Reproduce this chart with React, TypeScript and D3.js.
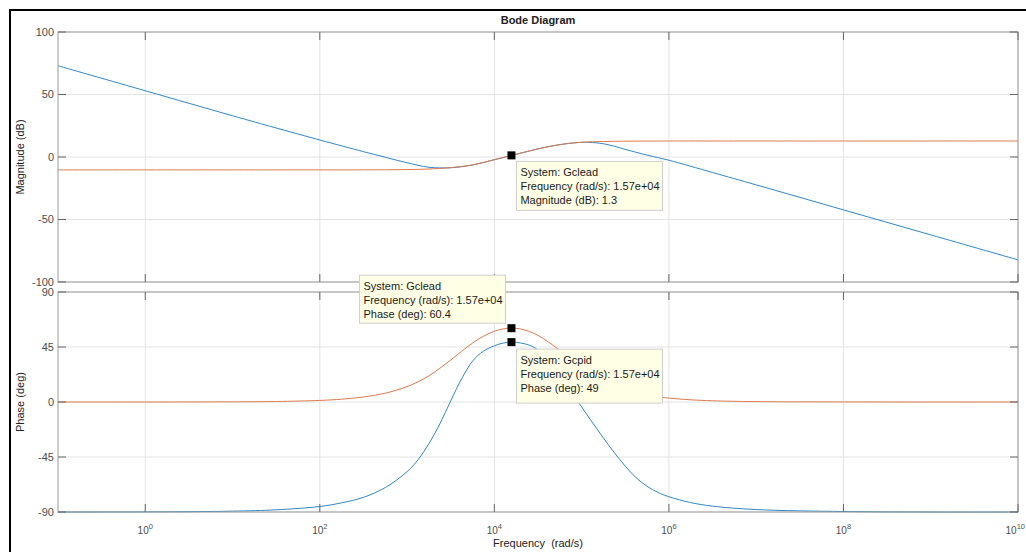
import React from "react";
import * as d3 from "d3";

// ---------- data ----------
// magnitude samples: frequency exponent (10^e rad/s) and dB values
const magFreqExp = [-1, 0, 1, 1.5, 2, 2.5, 2.75, 3, 3.25, 3.5, 3.75, 4, 4.2, 4.4, 4.6, 4.8, 5, 5.125, 5.25, 5.375, 5.5, 5.75, 6, 6.5, 7, 8, 9, 10];
const gcpidMag = [73, 53, 33, 23.2, 13.6, 4.3, -0.2, -4.6, -8.2, -8.6, -6.4, -2.2, 1.3, 4.8, 8.0, 10.4, 11.7, 11.6, 10.6, 8.6, 6.1, 1.5, -2.6, -12.4, -22.3, -42.3, -62.3, -82.3];
const gcleadMag = [-10.3, -10.3, -10.3, -10.3, -10.3, -10.27, -10.2, -10.05, -9.6, -8.5, -6.3, -2.1, 1.3, 4.8, 8.0, 10.4, 11.8, 12.2, 12.4, 12.55, 12.65, 12.75, 12.8, 12.8, 12.8, 12.8, 12.8, 12.8];

// phase samples: frequency exponent and degrees
const phFreqExp = [-1, 0, 1, 1.5, 2, 2.25, 2.5, 2.75, 3, 3.125, 3.25, 3.375, 3.5, 3.625, 3.75, 3.875, 4, 4.1, 4.2, 4.3, 4.4, 4.5, 4.625, 4.75, 4.875, 5, 5.125, 5.25, 5.375, 5.5, 5.625, 5.75, 5.875, 6, 6.25, 6.5, 7, 8, 9, 10];
const gcpidPhase = [-90, -89.9, -89.3, -88.2, -85.5, -82.5, -78, -70, -57, -47.3, -34.1, -17.9, 0.9, 19, 33.4, 41.6, 46, 48.2, 49, 48.3, 46.5, 42.5, 34, 23, 9, -4, -17, -29.5, -41.5, -52.5, -62, -69, -74, -77.5, -82.3, -85.2, -88, -89.6, -90, -90];
const gcleadPhase = [0, 0, 0.13, 0.41, 1.3, 2.3, 4.1, 7.2, 12.6, 16.5, 21.5, 27.6, 34.3, 41.5, 48.2, 53.8, 57.9, 59.8, 60.4, 59.8, 57.7, 54.5, 48.8, 42.4, 35.3, 28.3, 22.3, 17.2, 13.1, 9.8, 7.4, 5.6, 4.2, 3.2, 1.8, 1.0, 0.3, 0.05, 0, 0];

const xTickExp = [0, 2, 4, 6, 8, 10];
const magTicks = [100, 50, 0, -50, -100];
const phaseTicks = [90, 45, 0, -45, -90];

const tipFreqText = "1.57e+04";
const tipFreq = 1.57e4;
const tipMagLead = 1.3;
const tipPhaseLead = 60.4;
const tipPhasePid = 49;

const title = "Bode Diagram";
const xLabel = "Frequency  (rad/s)";
const magLabel = "Magnitude (dB)";
const phaseLabel = "Phase (deg)";

const BLUE = "#2f88c8";
const ORANGE = "#df7a4e";

export default function App() {
  const L = 58, R = 1018;
  const magTop = 32, magBot = 282;
  const phTop = 292, phBot = 512;

  const x = d3.scaleLog().domain([1e-1, 1e10]).range([L, R]);
  const yMag = d3.scaleLinear().domain([-100, 100]).range([magBot, magTop]);
  const yPh = d3.scaleLinear().domain([-90, 90]).range([phBot, phTop]);

  const mk = (fe: number[], vals: number[], y: any) =>
    d3
      .line<number>()
      .x((_, i) => x(Math.pow(10, fe[i])))
      .y((v) => y(v))
      .curve(d3.curveCatmullRom.alpha(0.5))(vals) as string;

  const font = "'Liberation Sans', Arial, Helvetica, sans-serif";
  const tickColor = "#4d4d4d";
  const gridColor = "#e3e3e3";
  const axisColor = "#9a9a9a";
  const tickLen = 8;

  const grid = (top: number, bot: number, y: any, ticks: number[]) => (
    <g>
      {xTickExp.map((e) => (
        <line key={"gx" + e} x1={x(Math.pow(10, e))} x2={x(Math.pow(10, e))} y1={top} y2={bot} stroke={gridColor} strokeWidth={1} />
      ))}
      {ticks.map((t) => (
        <line key={"gy" + t} x1={L} x2={R} y1={y(t)} y2={y(t)} stroke={gridColor} strokeWidth={1} />
      ))}
    </g>
  );

  const axesFrame = (top: number, bot: number, y: any, ticks: number[]) => (
    <g>
      <rect x={L} y={top} width={R - L} height={bot - top} fill="none" stroke={axisColor} strokeWidth={1} />
      {xTickExp.map((e) => {
        const xx = x(Math.pow(10, e));
        return (
          <g key={"tx" + e}>
            <line x1={xx} x2={xx} y1={top} y2={top + tickLen} stroke="#666" />
            <line x1={xx} x2={xx} y1={bot} y2={bot - tickLen} stroke="#666" />
          </g>
        );
      })}
      {ticks.map((t) => (
        <g key={"ty" + t}>
          <line x1={L} x2={L + tickLen} y1={y(t)} y2={y(t)} stroke="#666" />
          <line x1={R} x2={R - tickLen} y1={y(t)} y2={y(t)} stroke="#666" />
          <text x={L - 4} y={y(t)} dy="0.35em" textAnchor="end" fontSize={11} fill={tickColor} fontFamily={font}>
            {t}
          </text>
        </g>
      ))}
    </g>
  );

  const dataTip = (bx: number, by: number, w: number, h: number, lines: string[]) => (
    <g>
      <rect x={bx} y={by} width={w} height={h} fill="#ffffe6" stroke="#cfcfcf" strokeWidth={1} />
      {lines.map((s, i) => (
        <text key={i} x={bx + 4} y={by + 15 + i * 14} fontSize={11} fill="#1a1a1a" fontFamily={font}>
          {s}
        </text>
      ))}
    </g>
  );

  const marker = (cx: number, cy: number) => <rect x={cx - 4} y={cy - 4} width={8} height={8} fill="#000" />;

  const tx = x(tipFreq);

  return (
    <svg width={1026} height={552} style={{ position: "absolute", left: 0, top: 0, background: "#fff" }}>
      <rect x={0} y={0} width={1026} height={552} fill="#fff" />
      <defs>
        <clipPath id="clipMag">
          <rect x={L} y={magTop - 1} width={R - L} height={magBot - magTop + 2} />
        </clipPath>
        <clipPath id="clipPh">
          <rect x={L} y={phTop - 1} width={R - L} height={phBot - phTop + 2} />
        </clipPath>
      </defs>

      {/* outer frame (left & top) */}
      <line x1={10} x2={10} y1={9} y2={552} stroke="#000" strokeWidth={2} />
      <line x1={9} x2={1026} y1={10} y2={10} stroke="#000" strokeWidth={2} />

      <text x={(L + R) / 2} y={24} textAnchor="middle" fontSize={11} fontWeight="bold" fill="#222" fontFamily={font}>
        {title}
      </text>

      {grid(magTop, magBot, yMag, magTicks)}
      {grid(phTop, phBot, yPh, phaseTicks)}

      <g clipPath="url(#clipMag)" fill="none" strokeWidth={1}>
        <path d={mk(magFreqExp, gcpidMag, yMag)} stroke={BLUE} />
        <path d={mk(magFreqExp, gcleadMag, yMag)} stroke={ORANGE} />
      </g>
      <g clipPath="url(#clipPh)" fill="none" strokeWidth={1}>
        <path d={mk(phFreqExp, gcpidPhase, yPh)} stroke={BLUE} />
        <path d={mk(phFreqExp, gcleadPhase, yPh)} stroke={ORANGE} />
      </g>

      {axesFrame(magTop, magBot, yMag, magTicks)}
      {axesFrame(phTop, phBot, yPh, phaseTicks)}

      {xTickExp.map((e, i) => {
        const last = i === xTickExp.length - 1;
        return (
          <text
            key={"xl" + e}
            x={last ? 1025 : x(Math.pow(10, e))}
            y={534}
            textAnchor={last ? "end" : "middle"}
            fontSize={10}
            fill={tickColor}
            fontFamily={font}
          >
            10
            <tspan dy={-5} fontSize={7.5}>
              {e}
            </tspan>
          </text>
        );
      })}

      <text x={(L + R) / 2} y={547} textAnchor="middle" fontSize={11} fill="#222" fontFamily={font} style={{ whiteSpace: "pre" }}>
        {xLabel}
      </text>
      <text transform={`translate(24,${(magTop + magBot) / 2}) rotate(-90)`} textAnchor="middle" fontSize={11} fill="#222" fontFamily={font}>
        {magLabel}
      </text>
      <text transform={`translate(24,${(phTop + phBot) / 2}) rotate(-90)`} textAnchor="middle" fontSize={11} fill="#222" fontFamily={font}>
        {phaseLabel}
      </text>

      {/* data tips */}
      {marker(tx, yMag(tipMagLead))}
      {dataTip(tx + 5, yMag(tipMagLead) + 6, 146, 49, [
        "System: Gclead",
        `Frequency (rad/s): ${tipFreqText}`,
        `Magnitude (dB): ${tipMagLead}`,
      ])}

      {dataTip(tx - 152, yPh(tipPhaseLead) - 53, 146, 48, [
        "System: Gclead",
        `Frequency (rad/s): ${tipFreqText}`,
        `Phase (deg): ${tipPhaseLead}`,
      ])}
      {marker(tx, yPh(tipPhaseLead))}

      {marker(tx, yPh(tipPhasePid))}
      {dataTip(tx + 5, yPh(tipPhasePid) + 7, 146, 54, [
        "System: Gcpid",
        `Frequency (rad/s): ${tipFreqText}`,
        `Phase (deg): ${tipPhasePid}`,
      ])}
    </svg>
  );
}
